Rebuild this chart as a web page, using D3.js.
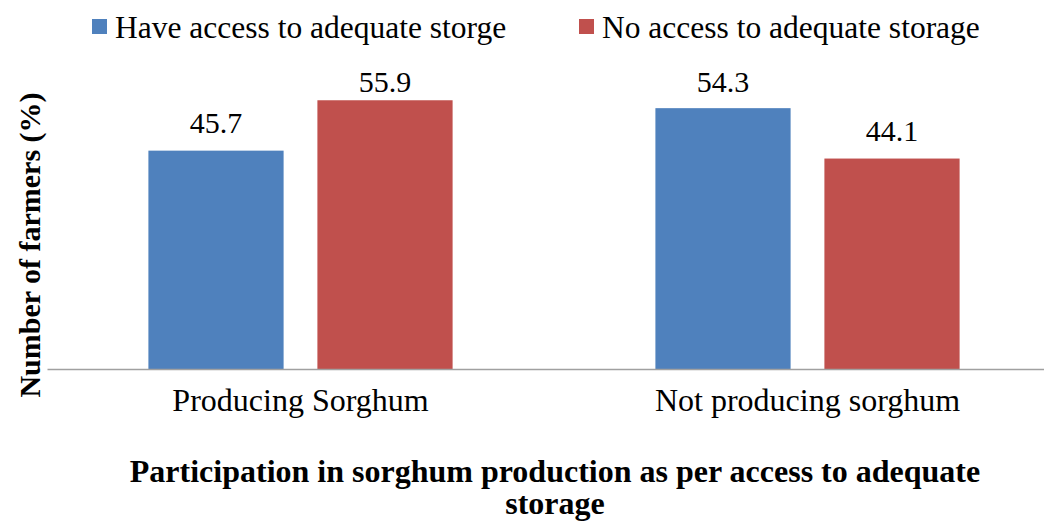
<!DOCTYPE html>
<html>
<head>
<meta charset="utf-8">
<script src="https://cdn.jsdelivr.net/npm/d3@7"></script>
<style>
  body { margin: 0; background: #fff; }
  text { font-family: "Liberation Serif", "Times New Roman", serif; fill: #000; }
</style>
</head>
<body>
<div id="chart-area"></div>
<script>
// data
const categories = ["Producing Sorghum", "Not producing sorghum"]
const seriesNames = ["Have access to adequate storge", "No access to adequate storage"]
const haveAccess = [45.7, 54.3]
const noAccess = [55.9, 44.1]
const seriesColors = ["#4f81bd", "#c0504d"]

const WIDTH = 1044
const HEIGHT = 521
const MARGIN = { LEFT: 47, RIGHT: -17, TOP: 80, BOTTOM: 152 }

const svg = d3.select("#chart-area").append("svg")
    .attr("width", WIDTH)
    .attr("height", HEIGHT)

// scales
const x0 = d3.scaleBand()
    .domain(categories)
    .range([MARGIN.LEFT, WIDTH - MARGIN.RIGHT])
const x1 = d3.scaleBand()
    .domain(seriesNames)
    .range([x0.bandwidth() * 0.2, x0.bandwidth() * 0.8])
    .paddingInner(0.2)
const y = d3.scaleLinear()
    .domain([1.5, 60])
    .range([HEIGHT - MARGIN.BOTTOM, MARGIN.TOP])

const rows = categories.map((c, i) => ({
    category: c,
    values: [
        { name: seriesNames[0], value: haveAccess[i], color: seriesColors[0] },
        { name: seriesNames[1], value: noAccess[i], color: seriesColors[1] }
    ]
}))

// bars
const groups = svg.selectAll(".group")
    .data(rows)
    .enter().append("g")
    .attr("class", "group")
    .attr("transform", d => `translate(${x0(d.category)}, 0)`)

groups.selectAll("rect")
    .data(d => d.values)
    .enter().append("rect")
    .attr("x", d => x1(d.name))
    .attr("y", d => y(d.value))
    .attr("width", x1.bandwidth())
    .attr("height", d => y.range()[0] - y(d.value))
    .attr("fill", d => d.color)

// value labels (kept inside the plot top, like the original)
groups.selectAll(".val")
    .data(d => d.values)
    .enter().append("text")
    .attr("class", "val")
    .attr("x", d => x1(d.name) + x1.bandwidth() / 2)
    .attr("y", d => Math.max(y(d.value) - 18, 92))
    .attr("text-anchor", "middle")
    .attr("font-size", "30px")
    .text(d => d.value.toFixed(1))

// x axis (baseline + category labels)
const xAxisCall = d3.axisBottom(x0).tickSize(0).tickPadding(36)
const xAxis = svg.append("g")
    .attr("transform", `translate(0, ${y.range()[0]})`)
    .call(xAxisCall)
xAxis.select(".domain").attr("stroke", "#a0a0a0").attr("stroke-width", 1.5)
xAxis.selectAll(".tick text")
    .attr("font-family", "Liberation Serif")
    .attr("font-size", "32px")
    .attr("dy", "0.2em")

// axis titles
svg.append("text")
    .attr("x", 555)
    .attr("y", 482)
    .attr("text-anchor", "middle")
    .attr("font-size", "32px")
    .attr("font-weight", "bold")
    .text("Participation in sorghum production as per access to adequate")
svg.append("text")
    .attr("x", 555)
    .attr("y", 514)
    .attr("text-anchor", "middle")
    .attr("font-size", "32px")
    .attr("font-weight", "bold")
    .text("storage")
svg.append("text")
    .attr("transform", "rotate(-90)")
    .attr("x", -245)
    .attr("y", 40)
    .attr("text-anchor", "middle")
    .attr("font-size", "30px")
    .attr("font-weight", "bold")
    .text("Number of farmers (%)")

// legend
const legendX = [92, 579]
const legend = svg.selectAll(".legend")
    .data(seriesNames)
    .enter().append("g")
    .attr("class", "legend")
    .attr("transform", (d, i) => `translate(${legendX[i]}, 19)`)
legend.append("rect")
    .attr("width", 15)
    .attr("height", 15)
    .attr("fill", (d, i) => seriesColors[i])
legend.append("text")
    .attr("x", 23)
    .attr("y", 19)
    .attr("font-size", "31.5px")
    .text(d => d)
</script>
</body>
</html>
